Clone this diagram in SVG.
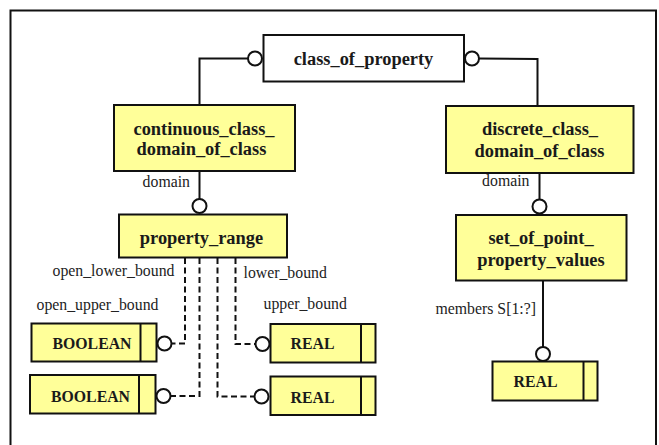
<svg xmlns="http://www.w3.org/2000/svg" width="659" height="445" viewBox="0 0 659 445">
  <style>
    .frame { fill: none; stroke: #111; stroke-width: 2; }
    .entity { fill: #ffff99; stroke: #111; stroke-width: 2; }
    .super { fill: #ffffff; stroke: #111; stroke-width: 2; }
    .div { stroke: #111; stroke-width: 2; }
    .name { font-family: "Liberation Serif", "Times New Roman", serif; font-weight: bold; font-size: 18.4px; fill: #1a1a1a; text-anchor: middle; }
    .type { font-family: "Liberation Serif", "Times New Roman", serif; font-weight: bold; font-size: 15.8px; fill: #1a1a1a; text-anchor: middle; }
    .lbl { font-family: "Liberation Serif", "Times New Roman", serif; font-size: 15.8px; fill: #222; }
    .rel { fill: none; stroke: #111; stroke-width: 2; }
    .opt { fill: none; stroke: #111; stroke-width: 2; stroke-dasharray: 6 3.5; }
    .end { fill: #ffffff; stroke: #111; stroke-width: 2; }
  </style>

  <!-- page frame (open at the bottom) -->
  <path class="frame" d="M10.5,446 V10.5 H656 V446"/>

  <!-- relationships -->
  <g id="connectors">
    <!-- supertype tree -->
    <path class="rel" d="M248,58.5 H199.5 V105"/>
    <circle class="end" cx="255" cy="58.5" r="7"/>
    <path class="rel" d="M479,58.5 L537.5,59 V106"/>
    <circle class="end" cx="472" cy="58.5" r="7"/>

    <!-- domain attributes -->
    <path class="rel" d="M199.5,171 V199"/>
    <circle class="end" cx="199.5" cy="206" r="7"/>
    <path class="rel" d="M539.5,173 V199.5"/>
    <circle class="end" cx="539.5" cy="206.5" r="7"/>

    <!-- members -->
    <path class="rel" d="M543,280 V347"/>
    <circle class="end" cx="543" cy="354" r="7"/>

    <!-- optional bounds -->
    <path class="opt" d="M185,258 V343.5 H171.5"/>
    <circle class="end" cx="164.5" cy="343.5" r="7"/>
    <path class="opt" d="M199.5,258 V396 H170.5"/>
    <circle class="end" cx="163.5" cy="396" r="7"/>
    <path class="opt" d="M217.5,258 V396.5 H254.5"/>
    <circle class="end" cx="261.5" cy="396.5" r="7"/>
    <path class="opt" d="M235.5,258 V344 H255.5"/>
    <circle class="end" cx="262.5" cy="344" r="7"/>
  </g>

  <!-- attribute labels -->
  <g id="labels">
    <text class="lbl" x="190" y="187" text-anchor="end">domain</text>
    <text class="lbl" x="529.5" y="185.5" text-anchor="end">domain</text>
    <text class="lbl" x="435.5" y="314">members S[1:?]</text>
    <text class="lbl" x="52.5" y="275.5">open_lower_bound</text>
    <text class="lbl" x="36.5" y="309.5">open_upper_bound</text>
    <text class="lbl" x="243.5" y="277.5">lower_bound</text>
    <text class="lbl" x="263.5" y="309">upper_bound</text>
  </g>

  <g id="class_of_property">
    <rect class="super" x="263.5" y="35" width="200.5" height="46.5"/>
    <text class="name" x="363.5" y="64.5">class_of_property</text>
  </g>

  <g id="continuous_class_domain_of_class">
    <rect class="entity" x="114" y="105" width="181" height="66"/>
    <text class="name" x="204" y="134.5">continuous_class_</text>
    <text class="name" x="201.5" y="154.5">domain_of_class</text>
  </g>

  <g id="discrete_class_domain_of_class">
    <rect class="entity" x="446" y="106" width="187.5" height="67"/>
    <text class="name" x="540" y="134.5">discrete_class_</text>
    <text class="name" x="539.5" y="156.5">domain_of_class</text>
  </g>

  <g id="property_range">
    <rect class="entity" x="119" y="214.5" width="168" height="43"/>
    <text class="name" x="201.5" y="243.5">property_range</text>
  </g>

  <g id="set_of_point_property_values">
    <rect class="entity" x="456" y="215" width="170.5" height="65.5"/>
    <text class="name" x="541" y="243.5">set_of_point_</text>
    <text class="name" x="541" y="265.5">property_values</text>
  </g>

  <g id="boolean_open_lower">
    <rect class="entity" x="31.5" y="323.5" width="125" height="38"/>
    <line class="div" x1="140.5" y1="323.5" x2="140.5" y2="361.5"/>
    <text class="type" x="92" y="348.5">BOOLEAN</text>
  </g>

  <g id="boolean_open_upper">
    <rect class="entity" x="30" y="375" width="125.5" height="38.5"/>
    <line class="div" x1="139" y1="375" x2="139" y2="413.5"/>
    <text class="type" x="90.5" y="401.5">BOOLEAN</text>
  </g>

  <g id="real_lower">
    <rect class="entity" x="270.5" y="324" width="105" height="38.5"/>
    <line class="div" x1="361" y1="324" x2="361" y2="362.5"/>
    <text class="type" x="312.5" y="349">REAL</text>
  </g>

  <g id="real_upper">
    <rect class="entity" x="270.5" y="376.5" width="105" height="38.5"/>
    <line class="div" x1="361" y1="376.5" x2="361" y2="415"/>
    <text class="type" x="312.5" y="402.5">REAL</text>
  </g>

  <g id="real_members">
    <rect class="entity" x="492.5" y="361.5" width="105" height="39"/>
    <line class="div" x1="583.5" y1="361.5" x2="583.5" y2="400.5"/>
    <text class="type" x="535.5" y="387">REAL</text>
  </g>
</svg>
